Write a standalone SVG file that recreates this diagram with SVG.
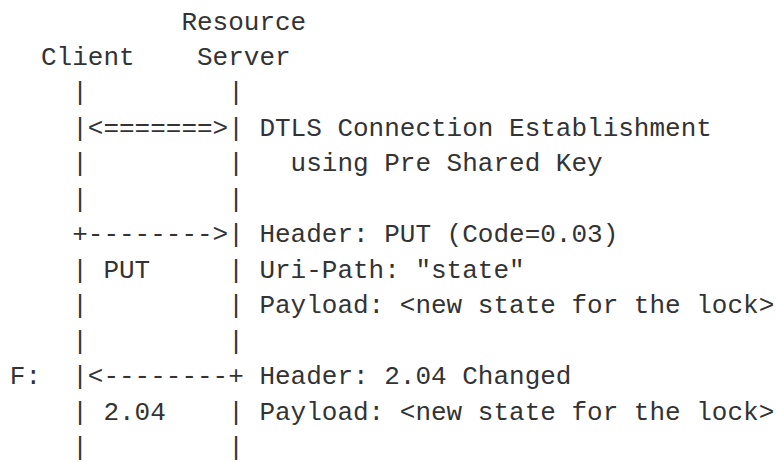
<svg xmlns="http://www.w3.org/2000/svg" width="776" height="462" viewBox="0 0 776 462">
<style>
text{font-family:"Liberation Mono","DejaVu Sans Mono",monospace;font-size:26px;fill:#333;white-space:pre}
</style>
<rect width="776" height="462" fill="#fff"/>
<g id="client"><text x="41.0" y="65">Client</text></g>
<g id="server"><text x="181.4" y="29.5">Resource</text><text x="197.0" y="65">Server</text></g>
<g id="connectors">
<text x="72.2" y="100.4">|</text><text x="228.2" y="100.4">|</text>
<text x="72.2" y="135.9">|&lt;=======&gt;|</text>
<text x="72.2" y="171.3">|</text><text x="228.2" y="171.3">|</text>
<text x="72.2" y="206.8">|</text><text x="228.2" y="206.8">|</text>
<text x="72.2" y="242.2">+--------&gt;|</text>
<text x="72.2" y="277.7">|</text><text x="228.2" y="277.7">|</text>
<text x="72.2" y="313.1">|</text><text x="228.2" y="313.1">|</text>
<text x="72.2" y="348.6">|</text><text x="228.2" y="348.6">|</text>
<text x="72.2" y="384">|&lt;--------+</text>
<text x="72.2" y="419.5">|</text><text x="228.2" y="419.5">|</text>
<text x="72.2" y="454.9">|</text><text x="228.2" y="454.9">|</text>
</g>
<g id="labels">
<text x="259.4" y="135.9">DTLS Connection Establishment</text>
<text x="290.6" y="171.3">using Pre Shared Key</text>
<text x="259.4" y="242.2">Header: PUT (Code=0.03)</text>
<text x="103.4" y="277.7">PUT</text>
<text x="259.4" y="277.7">Uri-Path: "state"</text>
<text x="259.4" y="313.1">Payload: &lt;new state for the lock&gt;</text>
<text x="9.8" y="384">F:</text>
<text x="259.4" y="384">Header: 2.04 Changed</text>
<text x="103.4" y="419.5">2.04</text>
<text x="259.4" y="419.5">Payload: &lt;new state for the lock&gt;</text>
</g>
</svg>
